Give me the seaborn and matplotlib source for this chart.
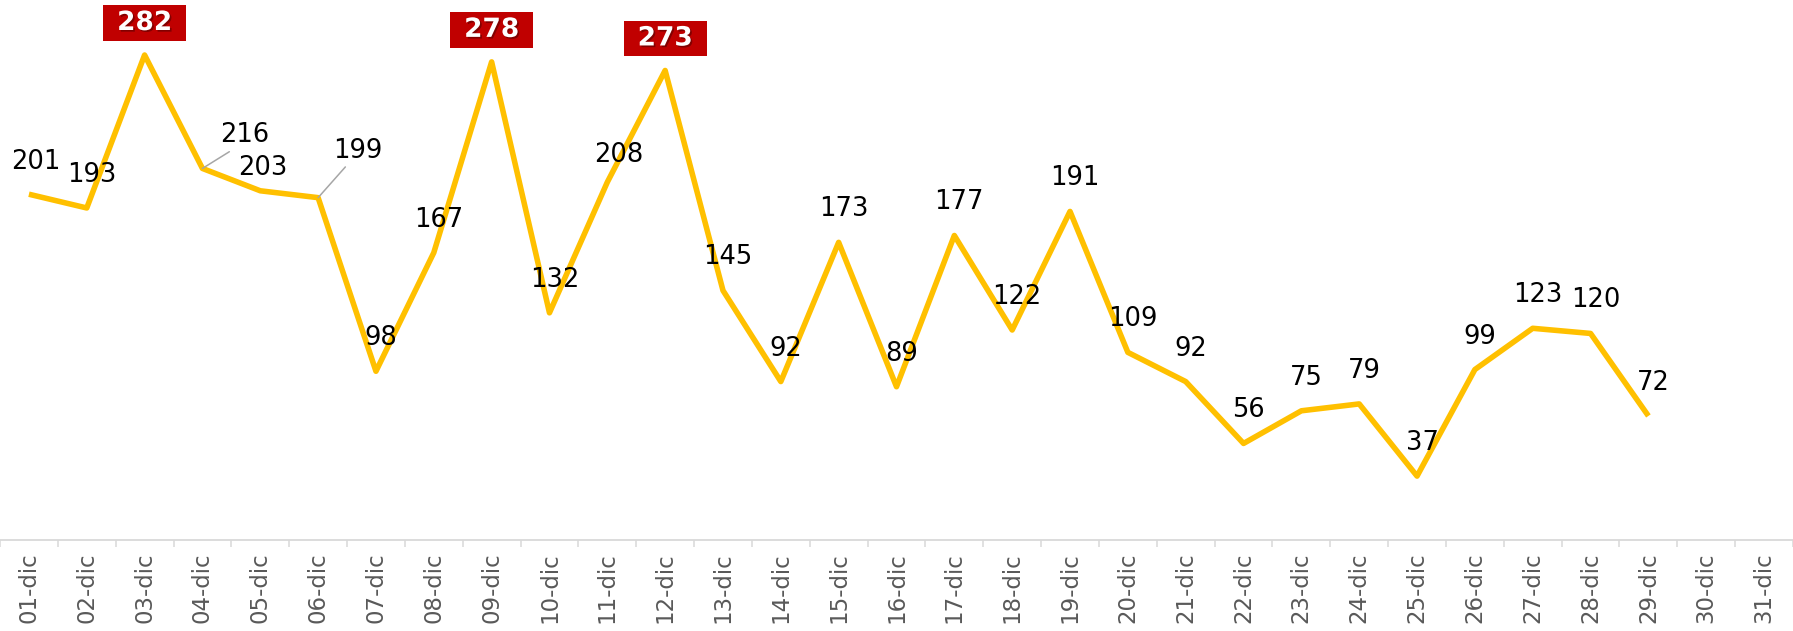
import numpy as np
import pandas as pd
import matplotlib
matplotlib.use("Agg")
import matplotlib.pyplot as plt
import matplotlib.patheffects as pe
import seaborn as sns

# Dati giornalieri di dicembre
giorni = [f"{d:02d}-dic" for d in range(1, 32)]
valori = [201, 193, 282, 216, 203, 199, 98, 167, 278, 132, 208, 273, 145, 92,
          173, 89, 177, 122, 191, 109, 92, 56, 75, 79, 37, 99, 123, 120, 72,
          np.nan, np.nan]
picchi = [282, 278, 273]  # valori evidenziati in rosso

df = pd.DataFrame({"pos": np.arange(len(giorni)), "giorno": giorni, "valore": valori})

sns.set_theme(style="white")
plt.rcParams["font.family"] = ["DejaVu Sans"]

fig = plt.figure(figsize=(17.93, 6.31), dpi=100)
ax = fig.add_axes([0.0, 91.3 / 631, 1.0, 1 - 91.3 / 631])

sns.lineplot(data=df, x="pos", y="valore", ax=ax, color="#FFC000", linewidth=4.0,
             solid_joinstyle="round", solid_capstyle="butt")

ax.set_xlim(-0.5, len(giorni) - 0.5)
ax.set_ylim(0, 314)

# etichette dei dati (spostamenti in pixel)
offset_speciali = {3: (42, 33), 4: (3, 23), 5: (40, 47), 10: (11, 27), 0: (7, 32)}
con_linea = {3, 5}
for i, v in enumerate(valori):
    if np.isnan(v):
        continue
    v = int(v)
    if v in picchi:
        ax.annotate(f" {v} ", xy=(i, v), xytext=(0, 32), textcoords="offset pixels",
                    ha="center", va="center", fontsize=19, fontweight="bold",
                    color="white",
                    bbox=dict(boxstyle="square,pad=0.18", fc="#C00000", ec="none"),
                    path_effects=[pe.withSimplePatchShadow(offset=(1.2, -1.2),
                                                           shadow_rgbFace="#5a0000",
                                                           alpha=0.6)])
        continue
    dx, dy = offset_speciali.get(i, (5, 33))
    kw = {}
    if i in con_linea:
        kw["arrowprops"] = dict(arrowstyle="-", color="#a6a6a6", lw=1.1,
                                shrinkA=0, shrinkB=0, relpos=(0.3, 0.0))
    ax.annotate(str(v), xy=(i, v), xytext=(dx, dy), textcoords="offset pixels",
                ha="center", va="center", fontsize=18.5, color="black", **kw)

# asse x
ax.set_xticks(df["pos"])
ax.set_xticklabels(giorni, rotation=90, fontsize=16.5, color="#595959")
ax.set_xticks(np.arange(-0.5, len(giorni) + 0.5, 1), minor=True)
ax.tick_params(axis="x", which="major", length=0, pad=9)
ax.tick_params(axis="x", which="minor", length=5.2, width=1.1, color="#d9d9d9", bottom=True)
ax.set_yticks([])
ax.set_xlabel("")
ax.set_ylabel("")
for s in ["top", "left", "right"]:
    ax.spines[s].set_visible(False)
ax.spines["bottom"].set_color("#d9d9d9")
ax.spines["bottom"].set_linewidth(1.3)
ax.grid(False)

fig.savefig("out.png", dpi=100)
